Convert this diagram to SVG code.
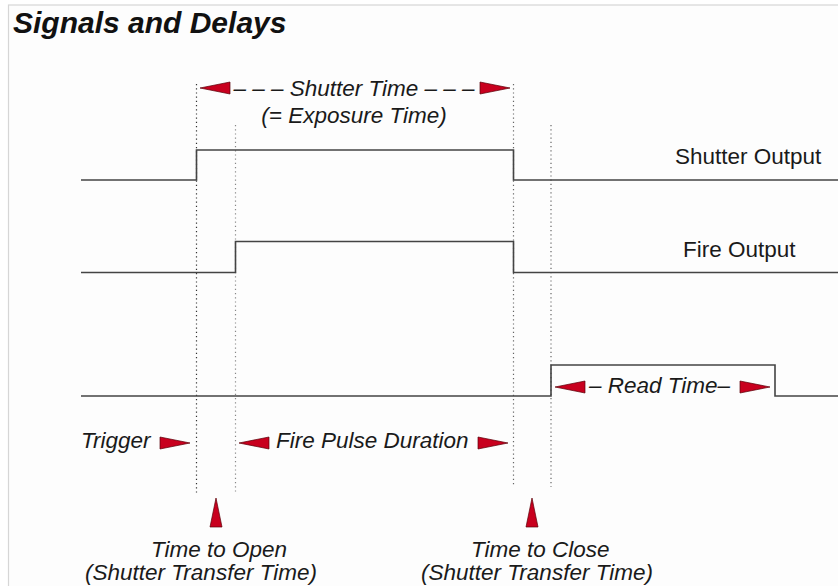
<svg xmlns="http://www.w3.org/2000/svg" width="838" height="586" viewBox="0 0 838 586">
  <style>
    .t { font-family: "Liberation Sans", Arial, sans-serif; font-size: 22.5px; fill: #1a1a1a; }
    .i { font-style: italic; }
    .sig { fill: none; stroke: #444; stroke-width: 1.6; }
    .dot { fill: none; stroke: #666; stroke-width: 1.2; stroke-dasharray: 1.2 3; }
    .arr { fill: #c8001e; stroke: #5a0008; stroke-width: 0.7; stroke-linejoin: round; }
  </style>
  <defs>
    <polygon id="ar" class="arr" points="0,0 -30,-6 -30,6"/>
    <polygon id="al" class="arr" points="0,0 30,-6 30,6"/>
    <polygon id="au" class="arr" points="0,0 -6,29 6,29"/>
  </defs>
  <rect x="0" y="0" width="838" height="586" fill="#ffffff"/>
  <rect x="8.5" y="5" width="840" height="600" fill="#fdfdfd" stroke="#d6d6d6" stroke-width="1.2"/>

  <g id="title">
    <text x="13" y="33" style="font-family:'Liberation Sans',Arial,sans-serif;font-size:30px;font-weight:bold;font-style:italic;fill:#111">Signals and Delays</text>
  </g>

  <g id="connectors">
    <line class="dot" x1="196.5" y1="84" x2="196.5" y2="493" style="stroke:#333"/>
    <line class="dot" x1="235.5" y1="125" x2="235.5" y2="493" style="stroke:#888"/>
    <line class="dot" x1="513.5" y1="84" x2="513.5" y2="487"/>
    <line class="dot" x1="551" y1="125" x2="551" y2="487"/>
    <use href="#al" x="200" y="88"/>
    <use href="#ar" x="510" y="88"/>
    <use href="#ar" x="190" y="443"/>
    <use href="#al" x="239" y="443"/>
    <use href="#ar" x="508" y="443"/>
    <use href="#al" x="555" y="387"/>
    <use href="#ar" x="770" y="387"/>
    <use href="#au" x="216" y="498"/>
    <use href="#au" x="532" y="498"/>
  </g>

  <g id="shutter-output">
    <polyline class="sig" points="81,180 196.5,180 196.5,150 513.5,150 513.5,180 838,180"/>
    <text class="t" x="675" y="164">Shutter Output</text>
  </g>
  <g id="fire-output">
    <polyline class="sig" points="81,272.5 235.5,272.5 235.5,241.5 513.5,241.5 513.5,272.5 838,272.5"/>
    <text class="t" x="683" y="257">Fire Output</text>
  </g>
  <g id="read-signal">
    <polyline class="sig" points="81,396 551,396 551,365 775,365 775,396 838,396"/>
  </g>

  <g id="shutter-time">
    <text class="t i" x="354" y="96" text-anchor="middle">– – – Shutter Time – – –</text>
    <text class="t i" x="354" y="123" text-anchor="middle">(= Exposure Time)</text>
  </g>
  <g id="read-time">
    <text class="t i" x="589" y="393">– Read Time–</text>
  </g>
  <g id="trigger">
    <text class="t i" x="81" y="448">Trigger</text>
  </g>
  <g id="fire-pulse">
    <text class="t i" x="276" y="448">Fire Pulse Duration</text>
  </g>
  <g id="time-to-open">
    <text class="t i" x="151" y="557">Time to Open</text>
    <text class="t i" x="85" y="580">(Shutter Transfer Time)</text>
  </g>
  <g id="time-to-close">
    <text class="t i" x="471" y="557">Time to Close</text>
    <text class="t i" x="421" y="580">(Shutter Transfer Time)</text>
  </g>
</svg>
